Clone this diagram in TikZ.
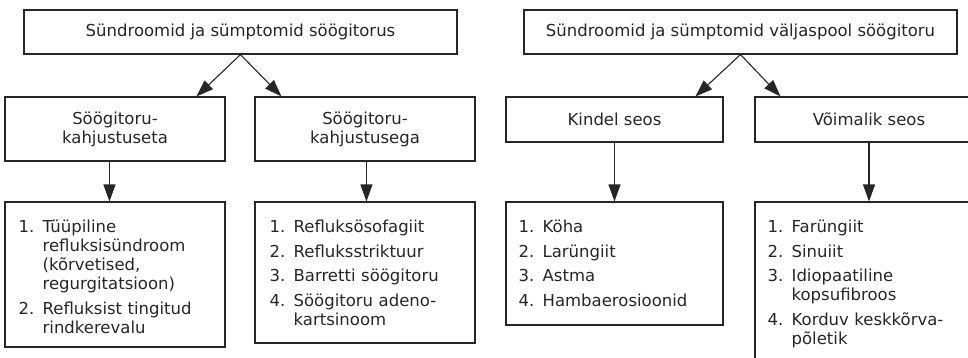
\documentclass[tikz,border=0pt]{standalone}
\usepackage{fontspec}
\setmainfont{DejaVu Sans}
\usetikzlibrary{arrows.meta,calc}
\definecolor{ink}{HTML}{262626}
\tikzset{
  box/.style={draw=ink, line width=1.1pt, rectangle, inner sep=0pt, align=center, text=ink,
    font=\fontsize{16.5}{19}\selectfont},
  conn/.style={draw=ink, line width=1.1pt, -{Triangle[length=17pt,width=12pt]}},
  listtext/.style={anchor=north west, inner sep=0pt, text width=215pt, align=left, text=ink,
    font=\fontsize{16.5}{19.2}\selectfont},
}
\newcommand{\itm}[2]{\par\hangindent=24pt\hangafter=1\noindent\makebox[24pt][l]{#1}#2\par}
\begin{document}
\begin{tikzpicture}[x=1pt,y=-1pt]
\useasboundingbox (0,0) rectangle (968,357);
\clip (0,0) rectangle (968,357);
% top nodes
\node[box, minimum width=433pt, minimum height=44pt] (T1) at (240.5,32) {Sündroomid ja sümptomid söögitorus};
\node[box, minimum width=433pt, minimum height=44pt] (T2) at (740.5,32) {Sündroomid ja sümptomid väljaspool söögitoru};
% second level
\node[box, minimum width=220pt, minimum height=64pt] (A1) at (115,129) {Söögitoru-\\kahjustuseta};
\node[box, minimum width=220pt, minimum height=64pt] (A2) at (365,129) {Söögitoru-\\kahjustusega};
\node[box, minimum width=217pt, minimum height=45pt] (B1) at (614.5,119.5) {Kindel seos};
\node[box, minimum width=228pt, minimum height=45pt] (B2) at (869,119.5) {Võimalik seos};
% list boxes
\node[box, minimum width=220pt, minimum height=145pt] (L1) at (115,274.5) {};
\node[box, minimum width=220pt, minimum height=141pt] (L2) at (365,272.5) {};
\node[box, minimum width=217pt, minimum height=123pt] (L3) at (614.5,263.5) {};
\node[box, minimum width=228pt, minimum height=173pt] (L4) at (869,288.5) {};
% list texts
\node[listtext] (X1) at ($(L1.north west)+(14,6)$) {%
  \setlength{\parskip}{5.5pt}%
  \itm{1.}{Tüüpiline\newline refluksisündroom\newline (kõrvetised,\newline regurgitatsioon)}%
  \itm{2.}{Refluksist tingitud\newline rindkerevalu}};
\node[listtext] (X2) at ($(L2.north west)+(15,6)$) {%
  \setlength{\parskip}{5.5pt}%
  \itm{1.}{Refluksösofagiit}%
  \itm{2.}{Refluksstriktuur}%
  \itm{3.}{Barretti söögitoru}%
  \itm{4.}{Söögitoru adeno-\newline kartsinoom}};
\node[listtext] (X3) at ($(L3.north west)+(13,6)$) {%
  \setlength{\parskip}{5.5pt}%
  \itm{1.}{Köha}%
  \itm{2.}{Larüngiit}%
  \itm{3.}{Astma}%
  \itm{4.}{Hambaerosioonid}};
\node[listtext] (X4) at ($(L4.north west)+(13,6)$) {%
  \setlength{\parskip}{5.5pt}%
  \itm{1.}{Farüngiit}%
  \itm{2.}{Sinuiit}%
  \itm{3.}{Idiopaatiline\newline kopsufibroos}%
  \itm{4.}{Korduv keskkõrva-\newline põletik}};
% connector anchors
\coordinate (a1b) at ($(A1.south west)+(105,0)$);
\coordinate (a2b) at ($(A2.south west)+(112,0)$);
\coordinate (a1t) at ($(A1.north west)+(192,0)$);
\coordinate (a2t) at ($(A2.north west)+(27,0)$);
\coordinate (b1t) at ($(B1.north west)+(190,0)$);
\coordinate (b2t) at ($(B2.north west)+(26,0)$);
% connectors
\draw[conn] (T1.south) -- (a1t);
\draw[conn] (T1.south) -- (a2t);
\draw[conn] (T2.south) -- (b1t);
\draw[conn] (T2.south) -- (b2t);
\draw[conn] (a1b) -- (a1b |- L1.north);
\draw[conn] (a2b) -- (a2b |- L2.north);
\draw[conn] (B1.south) -- (L3.north);
\draw[conn] (B2.south) -- (L4.north);
\end{tikzpicture}
\end{document}
